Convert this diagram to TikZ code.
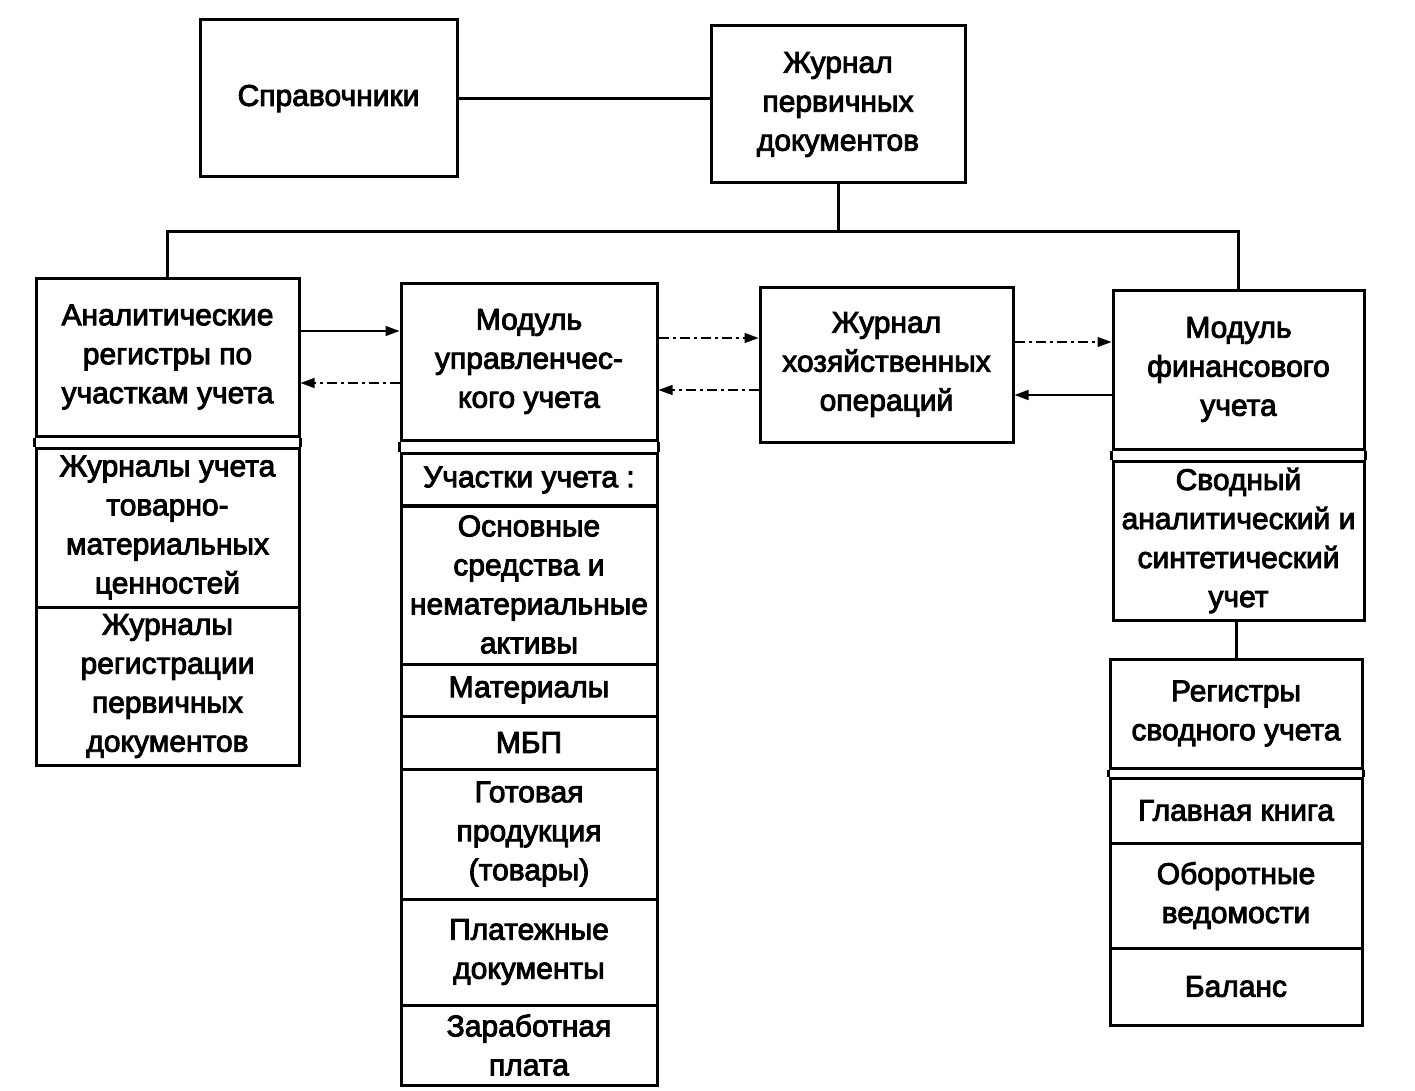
\documentclass[tikz,border=0pt]{standalone}
\usepackage{fontspec}
\setmainfont{Liberation Sans}
\newfontfamily\heavy{Liberation Sans}[FakeBold=3]
\usetikzlibrary{arrows.meta}
\begin{document}
\begin{tikzpicture}[x=1pt,y=-1pt,
  box/.style={draw, line width=3pt, align=center, inner sep=0pt,
    font=\heavy\fontsize{30}{39}\selectfont},
  arr/.style={line width=1.4pt, -{Triangle[length=14pt,width=10pt]}},
  dsh/.style={arr, dash pattern=on 10pt off 4pt on 3pt off 4pt},
  conn/.style={line width=3pt}]
\useasboundingbox (0,0) rectangle (1415,1091);
% top
\node[box, minimum width=257pt, minimum height=157pt] (sp) at (328.5,98.5) {Справочники};
\node[box, minimum width=254pt, minimum height=157pt] (jpd) at (838,104.5) {Журнал\\первичных\\документов};
% analytic column
\node[box, minimum width=263pt, minimum height=158pt] (a1) at (167.5,357) {Аналитические\\регистры по\\участкам учета};
\node[box, minimum width=263pt, minimum height=159pt] (a2) at (167.5,527.5) {Журналы учета\\товарно-\\материальных\\ценностей};
\node[box, minimum width=263pt, minimum height=158pt] (a3) at (167.5,686) {Журналы\\регистрации\\первичных\\документов};
% management module
\node[box, minimum width=256pt, minimum height=157pt] (m1) at (529,361.5) {Модуль\\управленчес-\\кого учета};
\node[box, minimum width=256pt, minimum height=53pt] (m2) at (529,480) {Участки учета :};
\node[box, minimum width=256pt, minimum height=159pt] (m3) at (529,584.5) {Основные\\средства и\\нематериальные\\активы};
\node[box, minimum width=256pt, minimum height=52pt] (m4) at (529,690) {Материалы};
\node[box, minimum width=256pt, minimum height=53pt] (m5) at (529,742.5) {МБП};
\node[box, minimum width=256pt, minimum height=130pt] (m6) at (529,834) {Готовая\\продукция\\(товары)};
\node[box, minimum width=256pt, minimum height=106pt] (m7) at (529,952) {Платежные\\документы};
\node[box, minimum width=256pt, minimum height=80pt] (m8) at (529,1045) {Заработная\\плата};
% journal of operations
\node[box, minimum width=253pt, minimum height=155pt] (jho) at (886.5,364.5) {Журнал\\хозяйственных\\операций};
% financial module
\node[box, minimum width=251pt, minimum height=159pt] (f1) at (1238.5,369.5) {Модуль\\финансового\\учета};
\node[box, minimum width=251pt, minimum height=159pt] (f2) at (1238.5,540.5) {Сводный\\аналитический и\\синтетический\\учет};
% registers
\node[box, minimum width=252pt, minimum height=109pt] (r1) at (1236,713.5) {Регистры\\сводного учета};
\node[box, minimum width=252pt, minimum height=65pt] (r2) at (1236,810.5) {Главная книга};
\node[box, minimum width=252pt, minimum height=105pt] (r3) at (1236,895.5) {Оборотные\\ведомости};
\node[box, minimum width=252pt, minimum height=77pt] (r4) at (1236,986.5) {Баланс};
% gaps of double lines
\foreach \u/\l in {a1/a2, m1/m2, f1/f2, r1/r2}{
  \draw[conn] (\u.south west) -- (\l.north west);
  \draw[conn] (\u.south east) -- (\l.north east);
}
% connectors
\draw[conn] (sp.east) -- (sp.east -| jpd.west);
\draw[conn] (jpd.south) -- (jpd.south |- 0,232);
\draw[conn] (a1.north) -- (a1.north |- 0,232) -- (f1.north |- 0,232) -- (f1.north);
\draw[conn] (f2.south -| r1.north) -- (r1.north);
% arrows
\draw[arr] (a1.east |- 0,331) -- (m1.west |- 0,331);
\draw[dsh] (m1.west |- 0,383) -- (a1.east |- 0,383);
\draw[dsh] (m1.east |- 0,338) -- (jho.west |- 0,338);
\draw[dsh] (jho.west |- 0,390) -- (m1.east |- 0,390);
\draw[dsh] (jho.east |- 0,342) -- (f1.west |- 0,342);
\draw[arr] (f1.west |- 0,395) -- (jho.east |- 0,395);
\end{tikzpicture}
\end{document}
